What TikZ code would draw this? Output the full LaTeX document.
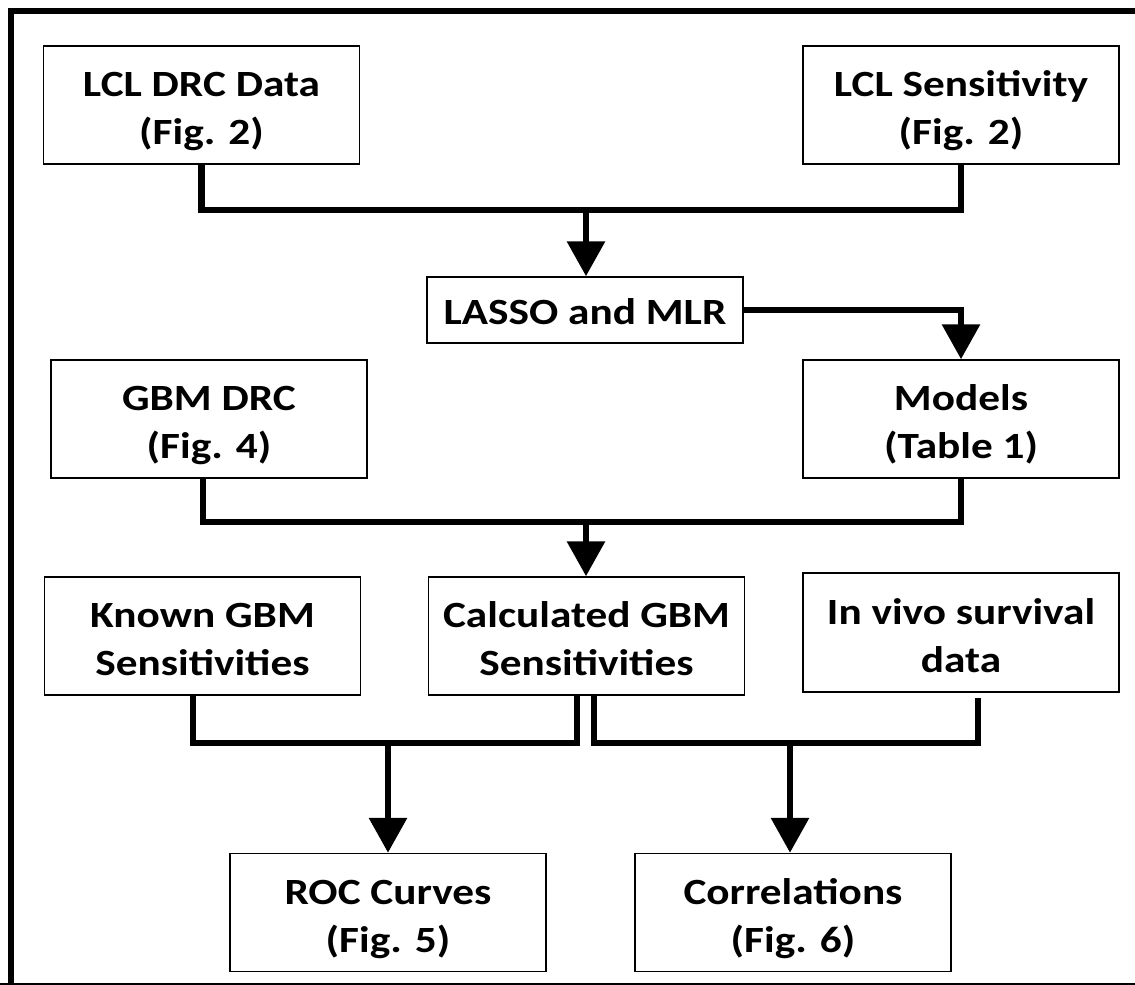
\documentclass[tikz,border=0pt]{standalone}
\usepackage{fontspec}
\setmainfont{Carlito}[FakeStretch=1.17]
\usetikzlibrary{arrows.meta,calc}
\newcommand\lowtext[1]{\raisebox{-6pt}[\height][\depth]{\begin{tabular}{@{}c@{}}#1\end{tabular}}}
\begin{document}
\begin{tikzpicture}[x=1pt,y=-1pt,
  box/.style={draw=black,line width=1.5pt,fill=white,minimum width=316pt,minimum height=118pt,inner sep=0pt,align=center,font=\fontsize{37}{48}\selectfont\bfseries},
  conn/.style={line width=6.5pt,line cap=butt,line join=miter},
  arr/.style={line width=6.5pt,line join=miter,-{Triangle[width=37pt,length=35pt]}},
  frame/.style={line width=6pt}
]
\useasboundingbox (0,0) rectangle (1135,985);
\fill[white] (0,0) rectangle (1135,985);
% frame
\draw[frame] (11,985) -- (11,11) -- (1135,11);
\draw[line width=2pt] (0,984) -- (1135,984);
% nodes
\node[box] (lcl) at (201.5,105) {\lowtext{LCL DRC Data\\(Fig. 2)}};
\node[box] (lcls) at (961,105) {\lowtext{LCL Sensitivity\\(Fig. 2)}};
\node[box,minimum height=66pt] (lasso) at (585,310) {\raisebox{-2pt}[\height][\depth]{LASSO and MLR}};
\node[box] (gbm) at (209,419) {\lowtext{GBM DRC\\(Fig. 4)}};
\node[box] (models) at (961,419) {\lowtext{Models\\(Table 1)}};
\node[box] (known) at (202.5,636) {\lowtext{Known GBM\\Sensitivities}};
\node[box] (calc) at (586.5,636) {\lowtext{Calculated GBM\\Sensitivities}};
\node[box,minimum height=119pt] (invivo) at (961,632.5) {\lowtext{In vivo survival\\data}};
\node[box] (roc) at (388,912.5) {\lowtext{ROC Curves\\(Fig. 5)}};
\node[box] (corr) at (793,912.5) {\lowtext{Correlations\\(Fig. 6)}};
% junction coordinates
\coordinate (j1) at (586,210);
\coordinate (j2) at (586,522);
\coordinate (j3) at (388,743);
\coordinate (j4) at (790,743);
% connectors
\draw[conn] (lcl.south) |- (j1) -| (lcls.south);
\draw[arr] (j1) -- (lasso.north -| j1);
\draw[arr] (lasso.east) -| (models.north);
\draw[conn] ($(gbm.south)+(-6,0)$) |- (j2) -| (models.south);
\draw[arr] (j2) -- (calc.north -| j2);
\draw[conn] ($(known.south)+(-9.5,0)$) |- (j3) -| ($(calc.south)+(-9.5,0)$);
\draw[arr] (j3) -- (roc.north -| j3);
\draw[conn] ($(calc.south)+(7.5,0)$) |- (j4) -| ($(invivo.south)+(17,5)$);
\draw[arr] (j4) -- (corr.north -| j4);
\end{tikzpicture}
\end{document}
